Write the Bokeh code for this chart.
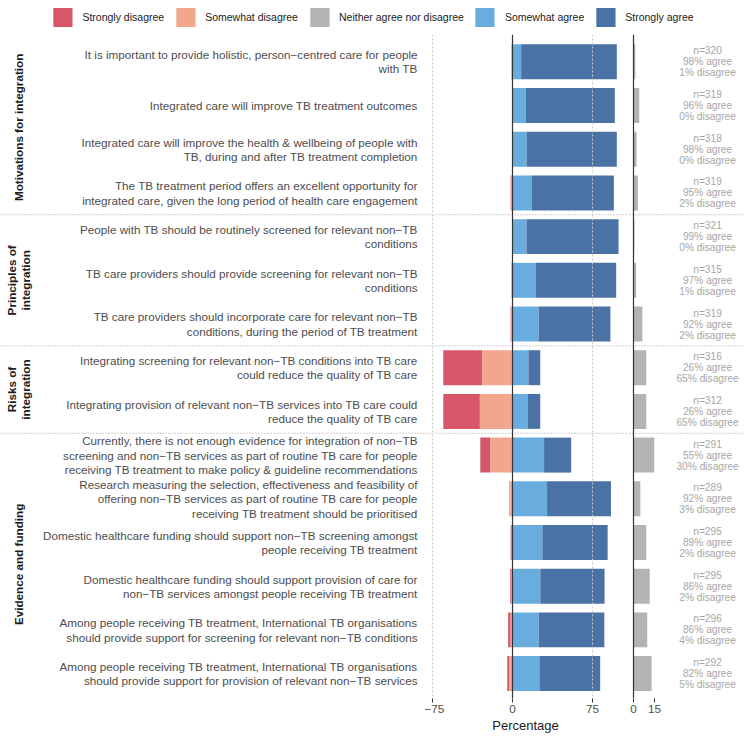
import numpy as np
from bokeh.plotting import figure
from bokeh.models import Range1d, FixedTicker, Span, Legend, LegendItem
from bokeh.layouts import row, column
from bokeh.embed import file_html
from bokeh.resources import INLINE
from bokeh.core.properties import value

MINUS = "\u2212"

# Response categories and their colours
categories = ["Strongly disagree", "Somewhat disagree", "Neither agree nor disagree",
              "Somewhat agree", "Strongly agree"]
colors = ["#D6566A", "#F2A68D", "#B3B3B3", "#69ADDE", "#4A72A4"]

# Survey statements (top to bottom)
statements = [
    "It is important to provide holistic, person\u2212centred care for people\nwith TB",
    "Integrated care will improve TB treatment outcomes",
    "Integrated care will improve the health & wellbeing of people with\nTB, during and after TB treatment completion",
    "The TB treatment period offers an excellent opportunity for\nintegrated care, given the long period of health care engagement",
    "People with TB should be routinely screened for relevant non\u2212TB\nconditions",
    "TB care providers should provide screening for relevant non\u2212TB\nconditions",
    "TB care providers should incorporate care for relevant non\u2212TB\nconditions, during the period of TB treatment",
    "Integrating screening for relevant non\u2212TB conditions into TB care\ncould reduce the quality of TB care",
    "Integrating provision of relevant non\u2212TB services into TB care could\nreduce the quality of TB care",
    "Currently, there is not enough evidence for integration of non\u2212TB\nscreening and non\u2212TB services as part of routine TB care for people\nreceiving TB treatment to make policy & guideline recommendations",
    "Research measuring the selection, effectiveness and feasibility of\noffering non\u2212TB services as part of routine TB care for people\nreceiving TB treatment should be prioritised",
    "Domestic healthcare funding should support non\u2212TB screening amongst\npeople receiving TB treatment",
    "Domestic healthcare funding should support provision of care for\nnon\u2212TB services amongst people receiving TB treatment",
    "Among people receiving TB treatment, International TB organisations\nshould provide support for screening for relevant non\u2212TB conditions",
    "Among people receiving TB treatment, International TB organisations\nshould provide support for provision of relevant non\u2212TB services",
]

# Thematic group of each statement
group_names = ["Motivations for integration", "Principles of\nintegration",
               "Risks of\nintegration", "Evidence and funding"]
group_of_statement = [0, 0, 0, 0, 1, 1, 1, 2, 2, 3, 3, 3, 3, 3, 3]

# Percentages of respondents per category
strongly_disagree = [0.3, 0.0, 0.0, 0.3, 0.0, 0.3, 0.3, 36.4, 34.3, 9.6, 0.7, 1.0, 0.7, 2.4, 2.1]
somewhat_disagree = [0.6, 0.0, 0.0, 1.6, 0.0, 0.6, 1.6, 28.5, 30.6, 20.6, 2.1, 0.7, 1.4, 1.7, 2.8]
neither = [1.3, 4.1, 2.2, 3.1, 0.6, 1.9, 6.3, 9.1, 9.1, 14.8, 4.9, 9.1, 11.6, 9.8, 12.9]
somewhat_agree = [8.1, 12.5, 13.2, 17.9, 13.1, 21.6, 24.5, 14.9, 14.1, 29.6, 32.4, 28.0, 26.1, 24.5, 25.2]
strongly_agree = [89.7, 83.4, 84.6, 77.1, 86.3, 75.6, 67.3, 11.1, 11.9, 25.4, 59.9, 61.2, 60.2, 61.6, 57.0]
respondents = [320, 319, 318, 319, 321, 315, 319, 316, 312, 291, 289, 295, 295, 296, 292]

main_ticks = [-75, 0, 75]
neutral_ticks = [0, 15]

# ---------------------------------------------------------------- layout
FONT = value("Liberation Sans")
FRAME_H = 664
n_rows = len(statements)
ys = np.arange(n_rows, 0, -1).astype(float)
y_range = Range1d(0.43, n_rows + 0.625)
BAR_H = 0.8

sd = np.array(strongly_disagree)
swd = np.array(somewhat_disagree)
neu = np.array(neither)
swa = np.array(somewhat_agree)
sa = np.array(strongly_agree)
agree = swa + sa
disagree = sd + swd

SEP_COLOR = "#A0A0A0"
group_arr = np.array(group_of_statement)
separators = [ys[group_arr == g].min() - 0.5 for g in range(len(group_names) - 1)]


def base_fig(**kw):
    p = figure(frame_height=FRAME_H, y_range=y_range, min_border=0,
               toolbar_location=None, output_backend="svg",
               outline_line_color=None, background_fill_color="white",
               border_fill_color="white", **kw)
    p.grid.visible = False
    for s in separators:
        p.add_layout(Span(location=s, dimension="width", line_color=SEP_COLOR,
                          line_dash="1 2", line_width=1))
    return p


def style_axis(ax):
    ax.axis_line_color = None
    ax.major_tick_in = 0
    ax.major_tick_out = 4
    ax.major_tick_line_color = "#333333"
    ax.minor_tick_line_color = None
    ax.major_label_text_font = "Liberation Sans"
    ax.major_label_text_font_size = "11.7px"
    ax.major_label_text_color = "#4D4D4D"
    ax.major_label_standoff = 2


# ---- statement labels and group strips
f0 = base_fig(frame_width=424, x_range=Range1d(0, 424),
              x_axis_location=None, y_axis_location=None)
f0.min_border_bottom = 38
f0.text(x=417, y=ys, text=statements, text_align="right", text_baseline="middle",
        text_font=FONT, text_font_size="11.7px", text_color="#4D4D4D",
        text_line_height=1.1)

g_centers = []
for g in range(len(group_names)):
    rows_g = ys[group_arr == g]
    top = min(rows_g.max() + 0.5, y_range.end)
    bot = max(rows_g.min() - 0.5, y_range.start)
    g_centers.append((top + bot) / 2)
f0.text(x=18, y=g_centers, text=group_names, angle=np.pi / 2, text_align="center",
        text_baseline="middle", text_font=FONT, text_font_size="11.7px",
        text_font_style="bold", text_color="#1A1A1A", text_line_height=1.1)

# ---- diverging stacked bars
f1 = base_fig(frame_width=202, x_range=Range1d(-82.5, 106.875), y_axis_location=None)
segments = [
    (-(sd + swd), -swd, colors[0]),
    (-swd, np.zeros(n_rows), colors[1]),
    (np.zeros(n_rows), swa, colors[3]),
    (swa, swa + sa, colors[4]),
]
for left, right, c in segments:
    f1.hbar(y=ys, left=left, right=right, height=BAR_H, fill_color=c, line_color=None)

for t in main_ticks:
    if t == 0:
        f1.add_layout(Span(location=t, dimension="height", line_color="#333333", line_width=1.2))
    else:
        f1.add_layout(Span(location=t, dimension="height", line_color="#C8C8C8",
                           line_dash="2 2", line_width=1))
f1.xaxis.ticker = FixedTicker(ticks=main_ticks)
f1.xaxis.major_label_overrides = {t: (MINUS + str(-t) if t < 0 else str(t)) for t in main_ticks}
style_axis(f1.xaxis[0])
f1.xaxis.axis_label = "Percentage"
f1.xaxis.axis_label_text_font = "Liberation Sans"
f1.xaxis.axis_label_text_font_size = "13px"
f1.xaxis.axis_label_text_font_style = "normal"
f1.xaxis.axis_label_text_color = "#1A1A1A"
f1.xaxis.axis_label_standoff = 2

# ---- neutral responses and counts
f2 = base_fig(frame_width=118, x_range=Range1d(-5, 79.29), y_axis_location=None)
f2.hbar(y=ys, left=0, right=neu, height=BAR_H, fill_color=colors[2], line_color=None)
f2.add_layout(Span(location=0, dimension="height", line_color="#333333", line_width=1.2))
f2.xaxis.ticker = FixedTicker(ticks=neutral_ticks)
style_axis(f2.xaxis[0])

notes = [f"n={n}\n{a:.0f}% agree\n{d:.0f}% disagree"
         for n, a, d in zip(respondents, agree, disagree)]
f2.text(x=52.9, y=ys, text=notes, text_align="center", text_baseline="middle",
        text_font=FONT, text_font_size="10.2px", text_color="#A6A6A6",
        text_line_height=1.0)

# ---- legend strip (swatch glyphs sit outside the visible range)
leg = figure(width=744, height=34, min_border=0, toolbar_location=None,
             output_backend="svg", x_range=Range1d(0, 1), y_range=Range1d(0, 1),
             x_axis_location=None, y_axis_location=None, outline_line_color=None)
leg.grid.visible = False
items = []
for cat, c in zip(categories, colors):
    r = leg.rect(x=[5], y=[5], width=1, height=1, fill_color=c, line_color=None)
    items.append(LegendItem(label=cat, renderers=[r]))
legend = Legend(items=items, orientation="horizontal", location="center",
                glyph_width=24, glyph_height=24, label_standoff=8, spacing=9,
                padding=0, margin=0, border_line_color=None, background_fill_alpha=0,
                label_text_font="Liberation Sans", label_text_font_size="10.5px",
                label_text_color="#1A1A1A")
leg.add_layout(legend, "center")

layout = column(leg, row(f0, f1, f2))
open("out.html", "w").write(file_html(layout, INLINE))
